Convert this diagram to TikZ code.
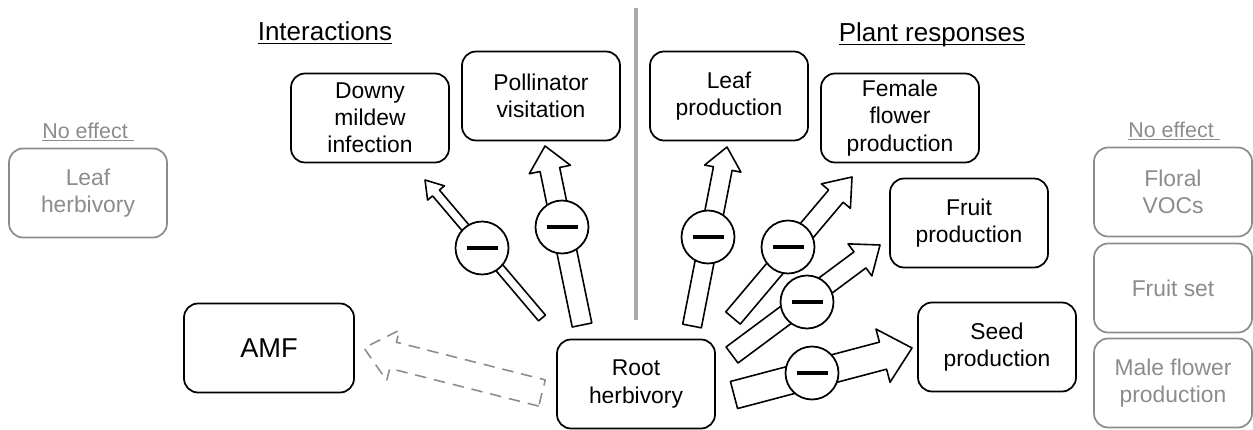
\documentclass[tikz,border=0pt]{standalone}
\usepackage{fontspec}
\setmainfont{Liberation Sans}
\usetikzlibrary{calc}
\definecolor{boxgrey}{RGB}{140,140,140}
\definecolor{linegrey}{RGB}{170,170,170}
\newcommand{\fatarrow}[6][]{%
  \coordinate (fa-h) at ($(#3)!#6!(#2)$);
  \draw[#1] ($(#2)!#4!90:(#3)$) -- ($(fa-h)!#4!-90:(#2)$) -- ($(fa-h)!#5!-90:(#2)$) -- (#3)
    -- ($(fa-h)!#5!90:(#2)$) -- ($(fa-h)!#4!90:(#2)$) -- ($(#2)!#4!-90:(#3)$) -- cycle;}
\newcommand{\headline}[1]{\underline{\smash{#1}}}
\begin{document}
\begin{tikzpicture}[x=0.02cm, y=-0.02cm, line join=round,
    box/.style={draw, rounded corners=0.28cm, line width=1pt, minimum width=3.16cm, minimum height=1.78cm,
      inner sep=2pt, align=center, font=\fontsize{13}{15.5}\selectfont},
    greybox/.style={box, draw=boxgrey, text=boxgrey},
    minus/.style={circle, draw, fill=white, line width=1pt, minimum size=1.06cm, inner sep=0pt},
    title/.style={anchor=base, font=\fontsize{14.8}{17}\selectfont},
    noeffect/.style={anchor=base, text=boxgrey, font=\fontsize{12.2}{14}\selectfont}]
    \useasboundingbox (0,0) rectangle (1253,429);
    \draw[linegrey, line width=2.2pt] (636,8) -- (636,320);
    \node[title] (inter) at (325,41) {\headline{Interactions}};
    \node[title] (resp) at (932,42) {\headline{Plant responses}};
    \node[noeffect] (ne-left) at (88,138) {\headline{No effect\ }};
    \node[noeffect] (ne-right) at (1174,137) {\headline{No effect\ }};
    \node[greybox] (leafherb) at (88,193) {Leaf\\herbivory};
    \node[greybox] (vocs) at (1173,192) {Floral\\VOCs};
    \node[greybox] (fruitset) at (1173,288) {Fruit set};
    \node[greybox] (male) at (1173,383) {Male flower\\production};
    \node[box] (downy) at (370,118) {Downy\\mildew\\infection};
    \node[box] (poll) at (541,96) {Pollinator\\visitation};
    \node[box] (leafprod) at (729,96) {Leaf\\production};
    \node[box] (female) at (900,118) {Female\\flower\\production};
    \node[box] (fruit) at (969,223) {Fruit\\production};
    \node[box] (seed) at (997,347) {Seed\\production};
    \node[box, minimum width=3.4cm, font=\fontsize{15.5}{18}\selectfont] (amf) at (269,348) {AMF};
    \node[box] (root) at (636,384) {Root\\herbivory};
    \coordinate (amf-tail) at (542,393);
    \coordinate (amf-tip) at (364,348);
    \coordinate (downy-tail) at (542,318);
    \coordinate (downy-tip) at (425,180);
    \coordinate (poll-tail) at (582,325);
    \coordinate (poll-tip) at (545,146);
    \coordinate (leaf-tail) at (692,326);
    \coordinate (leaf-tip) at (727,147);
    \coordinate (female-tail) at (733,318);
    \coordinate (female-tip) at (852,177);
    \coordinate (fruit-tail) at (732,355);
    \coordinate (fruit-tip) at (880,245);
    \coordinate (seed-tail) at (734,395);
    \coordinate (seed-tip) at (912,348);
    \fatarrow[boxgrey, dashed, dash pattern=on 6.5pt off 4.5pt, line width=0.9pt]{amf-tail}{amf-tip}{0.27cm}{0.52cm}{0.6cm}
    \fatarrow[line width=0.9pt]{downy-tail}{downy-tip}{0.09cm}{0.22cm}{0.34cm}
    \fatarrow[line width=0.9pt]{poll-tail}{poll-tip}{0.2cm}{0.42cm}{0.48cm}
    \fatarrow[line width=0.9pt]{leaf-tail}{leaf-tip}{0.19cm}{0.37cm}{0.44cm}
    \fatarrow[line width=0.9pt]{female-tail}{female-tip}{0.19cm}{0.38cm}{0.5cm}
    \fatarrow[line width=0.9pt]{fruit-tail}{fruit-tip}{0.2cm}{0.4cm}{0.5cm}
    \fatarrow[line width=0.9pt]{seed-tail}{seed-tip}{0.28cm}{0.55cm}{0.6cm}
    \node[minus] (downy-m) at (482,248) {\rule{0.62cm}{0.075cm}};
    \node[minus] (poll-m) at (562,227) {\rule{0.62cm}{0.075cm}};
    \node[minus] (leaf-m) at (708,237) {\rule{0.62cm}{0.075cm}};
    \node[minus] (female-m) at (788,247) {\rule{0.62cm}{0.075cm}};
    \node[minus] (fruit-m) at (807,302) {\rule{0.62cm}{0.075cm}};
    \node[minus] (seed-m) at (812,373) {\rule{0.62cm}{0.075cm}};
\end{tikzpicture}
\end{document}
